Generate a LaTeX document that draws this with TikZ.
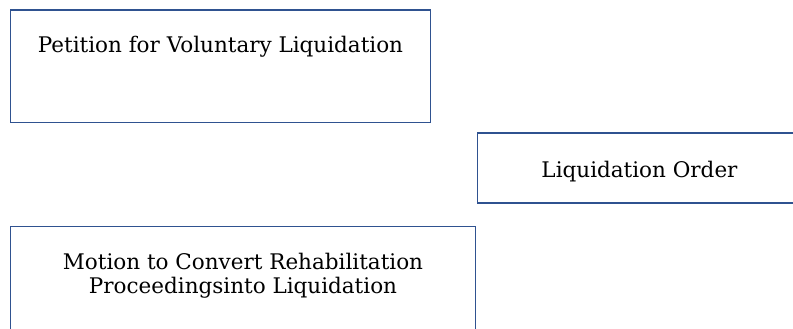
\documentclass[tikz,border=0pt]{standalone}
\usepackage{fontspec}
\setmainfont{DejaVu Serif}
\begin{document}
\begin{tikzpicture}[x=1pt,y=-1pt,
  frame/.style={draw=boxblue,line width=1.8pt},
  label/.style={font=\fontsize{21.5}{24}\selectfont,align=center,inner sep=0pt,anchor=base}]
\definecolor{boxblue}{HTML}{2F5290}
\useasboundingbox (0,0) rectangle (793,329);
\begin{scope}
\clip (0,0) rectangle (793,329);
% process boxes
\draw[frame] (10.5,10) rectangle (430.5,122.5);
\draw[frame] (477.5,133) rectangle (802,203);
\draw[frame] (10.5,226.5) rectangle (475.5,345);
\end{scope}
% captions
\node[label] (petition) at (220.5,53) {Petition for Voluntary Liquidation};
\node[label] (order) at (639.5,177) {Liquidation Order};
\node[label] (motion) at (243,269) {Motion to Convert Rehabilitation};
\node[label] (motion2) at (243,293.5) {Proceedingsinto Liquidation};
\end{tikzpicture}
\end{document}
